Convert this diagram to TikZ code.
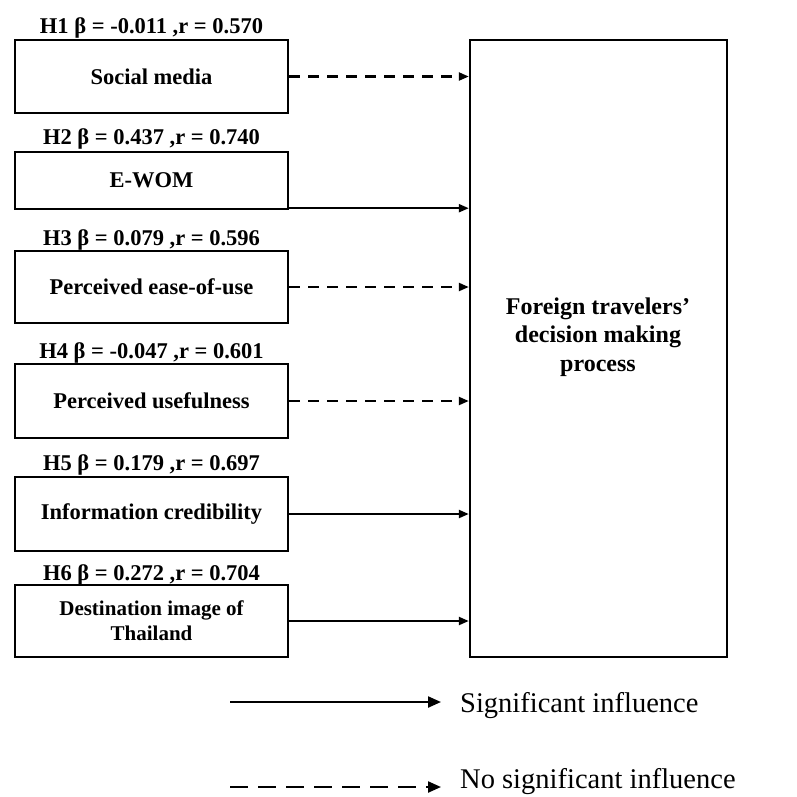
\documentclass[tikz,border=0pt]{standalone}
\usepackage{fontspec}
\setmainfont{Liberation Serif}
\usetikzlibrary{arrows.meta}

\begin{document}
\begin{tikzpicture}[x=1pt,y=-1pt,
  box/.style={draw, line width=2.4pt, minimum width=273pt, align=center,
    inner sep=0pt, font=\fontsize{22.5}{27}\selectfont\bfseries},
  hyp/.style={anchor=base, inner sep=0pt, font=\fontsize{22.5}{27}\selectfont\bfseries},
  sig/.style={line width=2.2pt, -{Triangle[length=10pt,width=8pt]}},
  nonsig/.style={sig, dash pattern=on 11pt off 8pt},
  legsig/.style={line width=2.2pt, -{Triangle[length=13pt,width=11pt]}},
  legnonsig/.style={legsig, dash pattern=on 18pt off 10pt},
  legtext/.style={anchor=base west, inner sep=0pt, font=\fontsize{28.5}{34}\selectfont},
]
\useasboundingbox (0,0) rectangle (797,796);

% predictor boxes
\node[box, minimum height=73pt] (b1) at (151.5,76.5) {Social media};
\node[box, minimum height=57pt] (b2) at (151.5,180.5) {E-WOM};
\node[box, minimum height=72pt] (b3) at (151.5,287) {Perceived ease-of-use};
\node[box, minimum height=74pt] (b4) at (151.5,401) {Perceived usefulness};
\node[box, minimum height=74pt] (b5) at (151.5,514) {Information credibility};
\node[box, minimum height=72pt, font=\fontsize{21}{25}\selectfont\bfseries] (b6) at (151.5,621)
  {Destination image of\\Thailand};

% hypothesis labels
\node[hyp] (h1) at (151.5,33)  {H1 β = -0.011 ,r = 0.570};
\node[hyp] (h2) at (151.5,144) {H2 β = 0.437 ,r = 0.740};
\node[hyp] (h3) at (151.5,245) {H3 β = 0.079 ,r = 0.596};
\node[hyp] (h4) at (151.5,358) {H4 β = -0.047 ,r = 0.601};
\node[hyp] (h5) at (151.5,470) {H5 β = 0.179 ,r = 0.697};
\node[hyp] (h6) at (151.5,580) {H6 β = 0.272 ,r = 0.704};

% outcome box
\node[draw, line width=2.4pt, minimum width=257pt, minimum height=617pt, inner sep=0pt] (f) at (598.5,348.5) {};
\node[align=center, inner sep=0pt, font=\fontsize{24}{28.5}\selectfont\bfseries] (ft) at (598,337)
  {Foreign travelers’\\decision making\\process};

% paths
\draw[nonsig] (b1.east) -- (b1.east -| f.west);
\draw[sig] ([yshift=2pt]b2.south east) -- ([yshift=2pt]b2.south east -| f.west);
\draw[nonsig] (b3.east) -- (b3.east -| f.west);
\draw[nonsig] (b4.east) -- (b4.east -| f.west);
\draw[sig] (b5.east) -- (b5.east -| f.west);
\draw[sig] (b6.east) -- (b6.east -| f.west);

% legend
\coordinate (la) at (230,702);
\coordinate (lb) at (441,702);
\coordinate (lc) at (230,787);
\coordinate (ld) at (441,787);
\draw[legsig] (la) -- (lb);
\draw[legnonsig] (lc) -- (ld);
\node[legtext] (lt1) at (460,712) {Significant influence};
\node[legtext] (lt2) at (460,788) {No significant influence};
\end{tikzpicture}
\end{document}
